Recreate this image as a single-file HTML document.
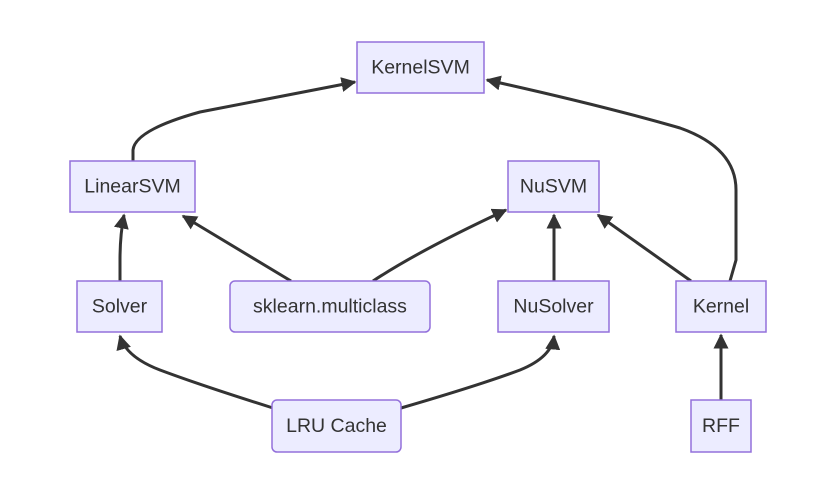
<!DOCTYPE html>
<html><head><style>
html,body{margin:0;padding:0;background:#fff;}
svg text{font-family:"Liberation Sans",sans-serif;font-size:19.5px;fill:#333;text-anchor:middle;dominant-baseline:central;}
.n{fill:#ECECFF;stroke:#9370DB;stroke-width:1.5;}
.e{fill:none;stroke:#333;stroke-width:3;}
</style></head><body>
<svg width="836" height="482" viewBox="0 0 836 482" xmlns="http://www.w3.org/2000/svg">
<defs><marker id="a" viewBox="0 0 10 10" refX="9" refY="5" markerWidth="5" markerHeight="5" orient="auto" markerUnits="strokeWidth"><path d="M0,0L10,5L0,10z" fill="#333"/></marker></defs>
<path class="e" marker-end="url(#a)" d="M133,161 L133,150 Q135,130 200,112 L355,82"/>
<path class="e" marker-end="url(#a)" d="M730,281 L736,260 L736,190 Q736,148 680,128 Q600,105 487,80"/>
<path class="e" marker-end="url(#a)" d="M120,281 L120,260 Q120,235 124,215"/>
<path class="e" marker-end="url(#a)" d="M291,281 L183,216"/>
<path class="e" marker-end="url(#a)" d="M373,281 Q420,250 506,210"/>
<path class="e" marker-end="url(#a)" d="M554,281 L554,215"/>
<path class="e" marker-end="url(#a)" d="M691,281 L598,215"/>
<path class="e" marker-end="url(#a)" d="M721,400 L721,335"/>
<path class="e" marker-end="url(#a)" d="M273,408 Q200,385 160,370 Q126,357 120,336"/>
<path class="e" marker-end="url(#a)" d="M401,408 Q480,385 520,370 Q552,357 554,336"/>
<rect class="n" x="357" y="42" width="127" height="51"/><text x="420.5" y="67.5">KernelSVM</text>
<rect class="n" x="70" y="161" width="125" height="51"/><text x="132.5" y="186.5">LinearSVM</text>
<rect class="n" x="508" y="161" width="91" height="51"/><text x="553.5" y="186.5">NuSVM</text>
<rect class="n" x="77" y="281" width="85" height="51"/><text x="119.5" y="306.5">Solver</text>
<rect class="n" x="230" y="281" width="200" height="51" rx="5"/><text x="330" y="306.5">sklearn.multiclass</text>
<rect class="n" x="498" y="281" width="111" height="51"/><text x="553.5" y="306.5">NuSolver</text>
<rect class="n" x="676" y="281" width="90" height="51"/><text x="721" y="306.5">Kernel</text>
<rect class="n" x="272" y="400" width="129" height="52" rx="5"/><text x="336.5" y="426">LRU Cache</text>
<rect class="n" x="691" y="400" width="60" height="52"/><text x="721" y="426">RFF</text>
</svg>
</body></html>
